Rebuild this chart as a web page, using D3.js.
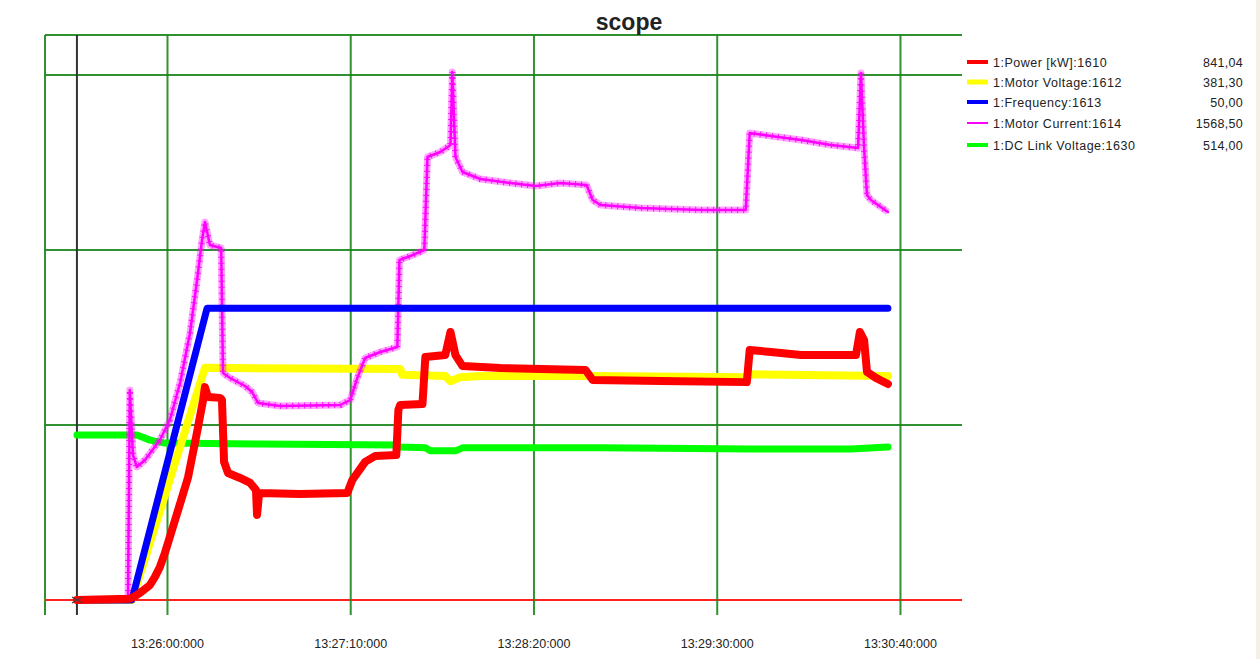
<!DOCTYPE html>
<html>
<head>
<meta charset="utf-8">
<script src="https://cdn.jsdelivr.net/npm/d3@7/dist/d3.min.js"></script>
<style>
  html, body { margin: 0; padding: 0; background: #ffffff; }
  svg { display: block; font-family: "Liberation Sans", Arial, sans-serif; }
</style>
</head>
<body>
<svg id="chart" width="1260" height="659"></svg>
<script>
// ---- DATA (time in seconds relative to 13:26:00, values in channel units) ----
const tickLabels = ["13:26:00:000", "13:27:10:000", "13:28:20:000", "13:29:30:000", "13:30:40:000"];
const tickSeconds = [0, 70, 140, 210, 280];
const timeDomain = [-46.6, 303.7];
const cursorTime = -34.4;

const seriesNames = ["1:Power [kW]:1610", "1:Motor Voltage:1612", "1:Frequency:1613", "1:Motor Current:1614", "1:DC Link Voltage:1630"];
const seriesValues = ["841,04", "381,30", "50,00", "1568,50", "514,00"];
const seriesColors = ["#ff0000", "#ffff00", "#0000ff", "#ff00ff", "#00ff00"];
const fullScale = [2000, 900, 90, 2100, 1760];   // value at the 3rd grid division

const powerData = [
  [-34.4, 0], [-14.2, 5], [-12.2, 15], [-10.3, 27], [-6.5, 57], [-4.6, 88], [-2.7, 126], [-0.8, 179],
  [3.1, 305], [8.0, 465], [11.5, 640], [13.8, 762],
  [14.5, 811], [15.7, 773], [20.3, 770], [21.0, 762], [21.8, 526], [23.3, 484], [27.9, 465], [31.8, 446],
  [34.0, 419], [34.4, 324], [35.2, 408], [50.9, 404], [68.9, 408], [70.8, 457], [75.7, 526], [79.6, 549],
  [87.6, 552], [88.4, 724], [89.1, 743], [97.6, 747], [98.7, 926], [106.3, 933], [108.3, 1021], [110.2, 933],
  [112.9, 891], [127.4, 884], [159.9, 876], [162.6, 838], [188.6, 834], [221.5, 830], [222.6, 952],
  [230.7, 945], [242.2, 933], [263.2, 933], [264.7, 1021], [266.3, 990], [267.4, 869], [270.8, 846], [275.4, 823]
];
const voltageData = [
  [-34.4, 0], [-13.4, 0], [14.5, 398], [89.1, 396], [89.9, 386], [106.3, 384], [108.3, 375], [112.1, 382],
  [119.7, 384], [161.8, 384], [221.8, 382], [222.9, 387], [275.4, 384]
];
const frequencyData = [
  [-34.4, 0], [-13.4, 0], [15.3, 50], [275.4, 50]
];
const currentData = [
  [-34.4, 0], [-14.9, 0], [-14.2, 840], [-13.0, 580], [-11.5, 532], [-8.4, 560], [-2.7, 640], [1.1, 720],
  [5.0, 868], [8.8, 1068], [11.5, 1280], [13.4, 1440], [14.5, 1512], [16.4, 1420], [20.7, 1408], [21.4, 908],
  [24.1, 888], [29.8, 856], [32.5, 832], [34.8, 788], [43.2, 776], [66.2, 780], [70.0, 800], [72.7, 888],
  [75.7, 968], [81.5, 992], [88.0, 1012], [88.8, 1360], [93.0, 1376], [98.3, 1400], [99.5, 1772], [104.4, 1792],
  [108.3, 1820], [109.0, 2112], [110.2, 1772], [112.9, 1712], [119.7, 1684], [131.2, 1668], [140.8, 1656],
  [150.3, 1668], [160.3, 1660], [162.6, 1600], [165.6, 1580], [180.9, 1568], [203.9, 1560], [221.1, 1560],
  [222.6, 1868], [230.7, 1856], [242.2, 1840], [253.6, 1820], [264.0, 1808], [265.1, 2108], [266.3, 1808],
  [267.4, 1620], [268.9, 1600], [275.4, 1552]
];
const dcLinkData = [
  [-34.4, 553], [-11.5, 553], [-6.5, 536], [-0.8, 526], [35.6, 523], [88.0, 520], [89.1, 513], [98.7, 510],
  [100.6, 500], [110.2, 500], [112.9, 510], [165.6, 510], [223.0, 506], [261.3, 506], [275.4, 513]
];

// ---- LAYOUT ----
const svg = d3.select("#chart");
const plotLeft = 45, plotRight = 962, plotTop = 35, zeroY = 600, bottomTick = 615, topDiv = 75;
const base = new Date(2020, 0, 1, 13, 26, 0);
const toDate = s => new Date(base.getTime() + s * 1000);

const x = d3.scaleTime().domain(timeDomain.map(toDate)).range([plotLeft, plotRight]);
const divScale = d3.scaleLinear().domain([0, 3]).range([zeroY, topDiv]);
const yScales = fullScale.map(fs => d3.scaleLinear().domain([0, fs]).range([zeroY, topDiv]));

svg.append("rect").attr("x", 1256).attr("y", 0).attr("width", 4).attr("height", 659).attr("fill", "#f4f0e8");

const gridColor = "#1a861a";
const g = svg.append("g");

// horizontal grid
[1, 2, 3].forEach(d => {
  g.append("line").attr("x1", plotLeft).attr("x2", plotRight)
    .attr("y1", divScale(d)).attr("y2", divScale(d))
    .attr("stroke", gridColor).attr("stroke-width", 2).attr("opacity", 0.9);
});
g.append("line").attr("x1", plotLeft).attr("x2", plotRight).attr("y1", plotTop).attr("y2", plotTop)
  .attr("stroke", gridColor).attr("stroke-width", 2).attr("opacity", 0.9);

// vertical grid + axis
const xAxis = d3.axisBottom(x)
  .tickValues(tickSeconds.map(toDate))
  .tickFormat((d, i) => tickLabels[i])
  .tickSize(bottomTick - plotTop)
  .tickPadding(24);
const ax = svg.append("g").attr("transform", `translate(0,${plotTop})`).call(xAxis);
ax.select(".domain").remove();
ax.selectAll(".tick line").attr("stroke", gridColor).attr("stroke-width", 2).attr("opacity", 0.9);
ax.selectAll(".tick text").attr("fill", "#222").attr("font-size", "12.5px")
  .attr("font-family", "'Liberation Sans', Arial, sans-serif");

// left border
g.append("line").attr("x1", plotLeft).attr("x2", plotLeft).attr("y1", plotTop).attr("y2", bottomTick)
  .attr("stroke", gridColor).attr("stroke-width", 2).attr("opacity", 0.9);

// zero line (red)
g.append("line").attr("x1", plotLeft).attr("x2", plotRight).attr("y1", zeroY).attr("y2", zeroY)
  .attr("stroke", "#ff2020").attr("stroke-width", 2);

// cursor line
g.append("line").attr("x1", x(toDate(cursorTime))).attr("x2", x(toDate(cursorTime)))
  .attr("y1", plotTop).attr("y2", bottomTick).attr("stroke", "#333").attr("stroke-width", 2);

// ---- SERIES ----
const lineFor = idx => d3.line().x(d => x(toDate(d[0]))).y(d => yScales[idx](d[1]));
const datasets = [powerData, voltageData, frequencyData, currentData, dcLinkData];
const widths = [8, 8, 7, 2.5, 7];
const drawOrder = [4, 1, 3, 2, 0];

drawOrder.forEach(i => {
  const path = lineFor(i)(datasets[i]);
  if (i === 3) {
    svg.append("path").attr("d", path).attr("fill", "none").attr("stroke", seriesColors[i])
      .attr("stroke-width", 7).attr("stroke-linejoin", "round").attr("opacity", 0.35);
    svg.append("path").attr("d", path).attr("fill", "none").attr("stroke", seriesColors[i])
      .attr("stroke-width", 6).attr("stroke-dasharray", "1,5").attr("opacity", 0.9);
  }
  svg.append("path").attr("d", path).attr("fill", "none").attr("stroke", seriesColors[i])
    .attr("stroke-width", widths[i]).attr("stroke-linejoin", "round").attr("stroke-linecap", "round");
});

// cursor marker
const cx = x(toDate(cursorTime));
svg.append("path").attr("d", `M${cx-5},${zeroY-3}L${cx+5},${zeroY+3}M${cx-5},${zeroY+3}L${cx+5},${zeroY-3}`)
  .attr("stroke", "#444").attr("stroke-width", 1.3);

// ---- TITLE ----
svg.append("text").attr("x", 629).attr("y", 30).attr("text-anchor", "middle")
  .attr("font-size", "23px").attr("font-weight", "bold").attr("fill", "#222").text("scope");

// ---- LEGEND ----
const legendY = [62, 82, 102, 123, 145];
const swH = [4, 5, 4, 2, 4];
seriesNames.forEach((name, i) => {
  svg.append("line").attr("x1", 967).attr("x2", 988).attr("y1", legendY[i]).attr("y2", legendY[i])
    .attr("stroke", seriesColors[i]).attr("stroke-width", swH[i]);
  svg.append("text").attr("x", 993).attr("y", legendY[i] + 4.5)
    .attr("font-size", "12.5px").attr("letter-spacing", "0.5px").attr("fill", "#222").text(name);
  svg.append("text").attr("x", 1243).attr("y", legendY[i] + 4.5).attr("text-anchor", "end")
    .attr("font-size", "12.5px").attr("letter-spacing", "0.3px").attr("fill", "#222").text(seriesValues[i]);
});
</script>
</body>
</html>
